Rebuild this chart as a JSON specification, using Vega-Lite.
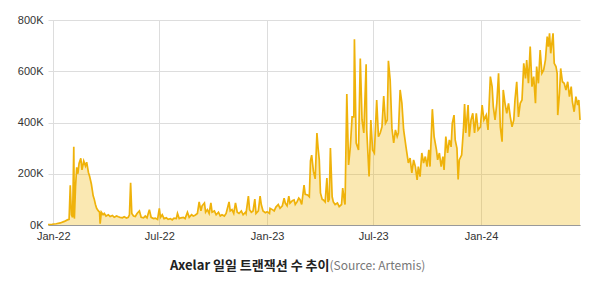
{
  "$schema": "https://vega.github.io/schema/vega-lite/v6.json",
  "width": 532,
  "height": 205,
  "autosize": {"type": "none"},
  "padding": {"left": 48, "top": 20, "right": 17, "bottom": 58},
  "background": "white",
  "config": {"view": {"stroke": null}},
  "data": {"values": [
    {"date": "2021-12-23", "value": 2000},
    {"date": "2021-12-30", "value": 3000},
    {"date": "2022-01-06", "value": 5000},
    {"date": "2022-01-13", "value": 8000},
    {"date": "2022-01-20", "value": 14000},
    {"date": "2022-01-25", "value": 20000},
    {"date": "2022-01-28", "value": 22000},
    {"date": "2022-01-30", "value": 155000},
    {"date": "2022-02-01", "value": 40000},
    {"date": "2022-02-03", "value": 30000},
    {"date": "2022-02-05", "value": 305000},
    {"date": "2022-02-06", "value": 25000},
    {"date": "2022-02-08", "value": 150000},
    {"date": "2022-02-10", "value": 225000},
    {"date": "2022-02-12", "value": 200000},
    {"date": "2022-02-14", "value": 240000},
    {"date": "2022-02-17", "value": 260000},
    {"date": "2022-02-19", "value": 215000},
    {"date": "2022-02-22", "value": 250000},
    {"date": "2022-02-25", "value": 230000},
    {"date": "2022-02-27", "value": 245000},
    {"date": "2022-03-02", "value": 205000},
    {"date": "2022-03-04", "value": 190000},
    {"date": "2022-03-07", "value": 160000},
    {"date": "2022-03-09", "value": 130000},
    {"date": "2022-03-10", "value": 115000},
    {"date": "2022-03-12", "value": 100000},
    {"date": "2022-03-14", "value": 80000},
    {"date": "2022-03-16", "value": 65000},
    {"date": "2022-03-19", "value": 55000},
    {"date": "2022-03-21", "value": 50000},
    {"date": "2022-03-22", "value": 5000},
    {"date": "2022-03-24", "value": 50000},
    {"date": "2022-03-27", "value": 40000},
    {"date": "2022-03-29", "value": 45000},
    {"date": "2022-04-01", "value": 35000},
    {"date": "2022-04-05", "value": 40000},
    {"date": "2022-04-08", "value": 33000},
    {"date": "2022-04-12", "value": 37000},
    {"date": "2022-04-15", "value": 30000},
    {"date": "2022-04-19", "value": 35000},
    {"date": "2022-04-22", "value": 32000},
    {"date": "2022-04-25", "value": 30000},
    {"date": "2022-04-29", "value": 28000},
    {"date": "2022-05-02", "value": 32000},
    {"date": "2022-05-06", "value": 27000},
    {"date": "2022-05-09", "value": 30000},
    {"date": "2022-05-11", "value": 40000},
    {"date": "2022-05-13", "value": 165000},
    {"date": "2022-05-15", "value": 45000},
    {"date": "2022-05-18", "value": 35000},
    {"date": "2022-05-21", "value": 33000},
    {"date": "2022-05-24", "value": 45000},
    {"date": "2022-05-28", "value": 55000},
    {"date": "2022-05-31", "value": 30000},
    {"date": "2022-06-04", "value": 28000},
    {"date": "2022-06-07", "value": 35000},
    {"date": "2022-06-10", "value": 28000},
    {"date": "2022-06-14", "value": 60000},
    {"date": "2022-06-17", "value": 30000},
    {"date": "2022-06-21", "value": 25000},
    {"date": "2022-06-24", "value": 27000},
    {"date": "2022-06-28", "value": 22000},
    {"date": "2022-07-01", "value": 65000},
    {"date": "2022-07-03", "value": 30000},
    {"date": "2022-07-06", "value": 40000},
    {"date": "2022-07-09", "value": 25000},
    {"date": "2022-07-13", "value": 28000},
    {"date": "2022-07-16", "value": 22000},
    {"date": "2022-07-20", "value": 25000},
    {"date": "2022-07-23", "value": 20000},
    {"date": "2022-07-26", "value": 27000},
    {"date": "2022-07-30", "value": 25000},
    {"date": "2022-08-01", "value": 45000},
    {"date": "2022-08-04", "value": 25000},
    {"date": "2022-08-07", "value": 28000},
    {"date": "2022-08-11", "value": 30000},
    {"date": "2022-08-14", "value": 25000},
    {"date": "2022-08-18", "value": 50000},
    {"date": "2022-08-21", "value": 30000},
    {"date": "2022-08-25", "value": 40000},
    {"date": "2022-08-28", "value": 35000},
    {"date": "2022-08-31", "value": 38000},
    {"date": "2022-09-04", "value": 45000},
    {"date": "2022-09-07", "value": 90000},
    {"date": "2022-09-10", "value": 55000},
    {"date": "2022-09-12", "value": 75000},
    {"date": "2022-09-16", "value": 86000},
    {"date": "2022-09-18", "value": 50000},
    {"date": "2022-09-21", "value": 60000},
    {"date": "2022-09-24", "value": 45000},
    {"date": "2022-09-27", "value": 86000},
    {"date": "2022-09-29", "value": 50000},
    {"date": "2022-10-03", "value": 55000},
    {"date": "2022-10-06", "value": 40000},
    {"date": "2022-10-10", "value": 50000},
    {"date": "2022-10-13", "value": 35000},
    {"date": "2022-10-16", "value": 40000},
    {"date": "2022-10-20", "value": 35000},
    {"date": "2022-10-23", "value": 45000},
    {"date": "2022-10-28", "value": 90000},
    {"date": "2022-10-30", "value": 55000},
    {"date": "2022-11-02", "value": 60000},
    {"date": "2022-11-05", "value": 45000},
    {"date": "2022-11-08", "value": 86000},
    {"date": "2022-11-11", "value": 50000},
    {"date": "2022-11-14", "value": 45000},
    {"date": "2022-11-18", "value": 55000},
    {"date": "2022-11-21", "value": 40000},
    {"date": "2022-11-25", "value": 50000},
    {"date": "2022-11-26", "value": 45000},
    {"date": "2022-11-30", "value": 113000},
    {"date": "2022-12-02", "value": 60000},
    {"date": "2022-12-05", "value": 50000},
    {"date": "2022-12-08", "value": 55000},
    {"date": "2022-12-11", "value": 101000},
    {"date": "2022-12-13", "value": 45000},
    {"date": "2022-12-17", "value": 55000},
    {"date": "2022-12-20", "value": 113000},
    {"date": "2022-12-22", "value": 80000},
    {"date": "2022-12-25", "value": 55000},
    {"date": "2022-12-29", "value": 48000},
    {"date": "2023-01-01", "value": 52000},
    {"date": "2023-01-05", "value": 45000},
    {"date": "2023-01-06", "value": 65000},
    {"date": "2023-01-10", "value": 60000},
    {"date": "2023-01-13", "value": 55000},
    {"date": "2023-01-16", "value": 70000},
    {"date": "2023-01-20", "value": 80000},
    {"date": "2023-01-23", "value": 65000},
    {"date": "2023-01-27", "value": 75000},
    {"date": "2023-01-30", "value": 105000},
    {"date": "2023-02-01", "value": 85000},
    {"date": "2023-02-04", "value": 75000},
    {"date": "2023-02-07", "value": 113000},
    {"date": "2023-02-09", "value": 85000},
    {"date": "2023-02-13", "value": 95000},
    {"date": "2023-02-16", "value": 98000},
    {"date": "2023-02-18", "value": 80000},
    {"date": "2023-02-21", "value": 90000},
    {"date": "2023-02-24", "value": 105000},
    {"date": "2023-02-26", "value": 100000},
    {"date": "2023-03-01", "value": 80000},
    {"date": "2023-03-05", "value": 156000},
    {"date": "2023-03-07", "value": 120000},
    {"date": "2023-03-11", "value": 117000},
    {"date": "2023-03-14", "value": 110000},
    {"date": "2023-03-16", "value": 250000},
    {"date": "2023-03-18", "value": 273000},
    {"date": "2023-03-21", "value": 210000},
    {"date": "2023-03-24", "value": 180000},
    {"date": "2023-03-27", "value": 359000},
    {"date": "2023-03-29", "value": 300000},
    {"date": "2023-03-31", "value": 254000},
    {"date": "2023-04-02", "value": 125000},
    {"date": "2023-04-05", "value": 100000},
    {"date": "2023-04-07", "value": 98000},
    {"date": "2023-04-10", "value": 90000},
    {"date": "2023-04-13", "value": 183000},
    {"date": "2023-04-15", "value": 90000},
    {"date": "2023-04-17", "value": 100000},
    {"date": "2023-04-19", "value": 300000},
    {"date": "2023-04-22", "value": 110000},
    {"date": "2023-04-24", "value": 90000},
    {"date": "2023-04-27", "value": 80000},
    {"date": "2023-05-01", "value": 86000},
    {"date": "2023-05-04", "value": 72000},
    {"date": "2023-05-08", "value": 80000},
    {"date": "2023-05-10", "value": 144000},
    {"date": "2023-05-13", "value": 90000},
    {"date": "2023-05-14", "value": 80000},
    {"date": "2023-05-17", "value": 511000},
    {"date": "2023-05-20", "value": 234000},
    {"date": "2023-05-23", "value": 305000},
    {"date": "2023-05-26", "value": 422000},
    {"date": "2023-05-29", "value": 422000},
    {"date": "2023-05-30", "value": 725000},
    {"date": "2023-06-02", "value": 320000},
    {"date": "2023-06-06", "value": 293000},
    {"date": "2023-06-09", "value": 650000},
    {"date": "2023-06-12", "value": 410000},
    {"date": "2023-06-15", "value": 359000},
    {"date": "2023-06-19", "value": 627000},
    {"date": "2023-06-20", "value": 371000},
    {"date": "2023-06-24", "value": 189000},
    {"date": "2023-06-27", "value": 410000},
    {"date": "2023-06-30", "value": 293000},
    {"date": "2023-07-03", "value": 281000},
    {"date": "2023-07-07", "value": 488000},
    {"date": "2023-07-10", "value": 345000},
    {"date": "2023-07-13", "value": 359000},
    {"date": "2023-07-16", "value": 383000},
    {"date": "2023-07-19", "value": 503000},
    {"date": "2023-07-22", "value": 397000},
    {"date": "2023-07-25", "value": 410000},
    {"date": "2023-07-27", "value": 641000},
    {"date": "2023-07-30", "value": 566000},
    {"date": "2023-08-02", "value": 378000},
    {"date": "2023-08-05", "value": 320000},
    {"date": "2023-08-08", "value": 371000},
    {"date": "2023-08-11", "value": 345000},
    {"date": "2023-08-13", "value": 359000},
    {"date": "2023-08-16", "value": 527000},
    {"date": "2023-08-19", "value": 476000},
    {"date": "2023-08-22", "value": 371000},
    {"date": "2023-08-26", "value": 305000},
    {"date": "2023-08-30", "value": 242000},
    {"date": "2023-09-02", "value": 261000},
    {"date": "2023-09-05", "value": 203000},
    {"date": "2023-09-08", "value": 254000},
    {"date": "2023-09-11", "value": 228000},
    {"date": "2023-09-14", "value": 176000},
    {"date": "2023-09-16", "value": 228000},
    {"date": "2023-09-19", "value": 189000},
    {"date": "2023-09-22", "value": 281000},
    {"date": "2023-09-25", "value": 242000},
    {"date": "2023-09-28", "value": 267000},
    {"date": "2023-10-01", "value": 228000},
    {"date": "2023-10-04", "value": 293000},
    {"date": "2023-10-06", "value": 228000},
    {"date": "2023-10-10", "value": 452000},
    {"date": "2023-10-13", "value": 345000},
    {"date": "2023-10-17", "value": 293000},
    {"date": "2023-10-19", "value": 254000},
    {"date": "2023-10-22", "value": 281000},
    {"date": "2023-10-25", "value": 228000},
    {"date": "2023-10-28", "value": 267000},
    {"date": "2023-10-30", "value": 215000},
    {"date": "2023-11-02", "value": 345000},
    {"date": "2023-11-05", "value": 281000},
    {"date": "2023-11-08", "value": 332000},
    {"date": "2023-11-11", "value": 305000},
    {"date": "2023-11-13", "value": 397000},
    {"date": "2023-11-16", "value": 429000},
    {"date": "2023-11-18", "value": 332000},
    {"date": "2023-11-21", "value": 299000},
    {"date": "2023-11-23", "value": 178000},
    {"date": "2023-11-25", "value": 254000},
    {"date": "2023-11-29", "value": 273000},
    {"date": "2023-12-02", "value": 371000},
    {"date": "2023-12-04", "value": 472000},
    {"date": "2023-12-06", "value": 359000},
    {"date": "2023-12-10", "value": 468000},
    {"date": "2023-12-12", "value": 345000},
    {"date": "2023-12-15", "value": 410000},
    {"date": "2023-12-18", "value": 436000},
    {"date": "2023-12-21", "value": 359000},
    {"date": "2023-12-24", "value": 436000},
    {"date": "2023-12-27", "value": 371000},
    {"date": "2023-12-31", "value": 383000},
    {"date": "2024-01-03", "value": 468000},
    {"date": "2024-01-06", "value": 410000},
    {"date": "2024-01-10", "value": 429000},
    {"date": "2024-01-13", "value": 371000},
    {"date": "2024-01-17", "value": 579000},
    {"date": "2024-01-20", "value": 540000},
    {"date": "2024-01-22", "value": 462000},
    {"date": "2024-01-25", "value": 410000},
    {"date": "2024-01-28", "value": 475000},
    {"date": "2024-01-31", "value": 592000},
    {"date": "2024-02-03", "value": 383000},
    {"date": "2024-02-06", "value": 325000},
    {"date": "2024-02-08", "value": 527000},
    {"date": "2024-02-11", "value": 475000},
    {"date": "2024-02-14", "value": 436000},
    {"date": "2024-02-17", "value": 475000},
    {"date": "2024-02-20", "value": 422000},
    {"date": "2024-02-23", "value": 383000},
    {"date": "2024-02-26", "value": 410000},
    {"date": "2024-02-28", "value": 488000},
    {"date": "2024-03-02", "value": 559000},
    {"date": "2024-03-05", "value": 422000},
    {"date": "2024-03-08", "value": 475000},
    {"date": "2024-03-11", "value": 488000},
    {"date": "2024-03-14", "value": 631000},
    {"date": "2024-03-17", "value": 572000},
    {"date": "2024-03-19", "value": 644000},
    {"date": "2024-03-22", "value": 553000},
    {"date": "2024-03-25", "value": 696000},
    {"date": "2024-03-28", "value": 540000},
    {"date": "2024-03-31", "value": 579000},
    {"date": "2024-04-03", "value": 475000},
    {"date": "2024-04-05", "value": 618000},
    {"date": "2024-04-08", "value": 553000},
    {"date": "2024-04-11", "value": 683000},
    {"date": "2024-04-14", "value": 592000},
    {"date": "2024-04-17", "value": 605000},
    {"date": "2024-04-20", "value": 644000},
    {"date": "2024-04-23", "value": 735000},
    {"date": "2024-04-25", "value": 696000},
    {"date": "2024-04-27", "value": 748000},
    {"date": "2024-04-29", "value": 670000},
    {"date": "2024-05-03", "value": 748000},
    {"date": "2024-05-05", "value": 631000},
    {"date": "2024-05-08", "value": 618000},
    {"date": "2024-05-10", "value": 592000},
    {"date": "2024-05-11", "value": 429000},
    {"date": "2024-05-14", "value": 514000},
    {"date": "2024-05-16", "value": 611000},
    {"date": "2024-05-19", "value": 559000},
    {"date": "2024-05-22", "value": 553000},
    {"date": "2024-05-25", "value": 527000},
    {"date": "2024-05-28", "value": 559000},
    {"date": "2024-05-31", "value": 501000},
    {"date": "2024-06-03", "value": 540000},
    {"date": "2024-06-05", "value": 481000},
    {"date": "2024-06-08", "value": 442000},
    {"date": "2024-06-11", "value": 501000},
    {"date": "2024-06-14", "value": 468000},
    {"date": "2024-06-16", "value": 488000},
    {"date": "2024-06-18", "value": 410000}
  ]},
  "encoding": {
    "x": {
      "field": "date",
      "type": "temporal",
      "axis": {
        "format": "%b-%y",
        "tickCount": {"interval": "month", "step": 6},
        "grid": true,
        "gridColor": "#dddddd",
        "ticks": false,
        "domainColor": "#999999",
        "labelFont": "Liberation Sans",
        "labelFontSize": 11,
        "labelColor": "#333333",
        "labelPadding": 5,
        "title": "Axelar 일일 트랜잭션 수 추이",
        "titleFont": "Noto Sans CJK KR",
        "titleFontWeight": "bold",
        "titleFontSize": 13,
        "titleColor": "#222222",
        "titleAlign": "right",
        "titleAnchor": "start",
        "titleX": 281,
        "titleY": 44,
        "titleBaseline": "alphabetic"
      }
    },
    "y": {
      "field": "value",
      "type": "quantitative",
      "scale": {"domain": [0, 800000]},
      "axis": {
        "values": [0, 200000, 400000, 600000, 800000],
        "labelExpr": "datum.value / 1000 + 'K'",
        "domain": false,
        "ticks": false,
        "grid": true,
        "gridColor": "#dddddd",
        "labelFont": "Liberation Sans",
        "labelFontSize": 11,
        "labelColor": "#333333",
        "labelPadding": 5,
        "title": "(Source: Artemis)",
        "titleAngle": 0,
        "titleFont": "Noto Sans CJK KR",
        "titleFontWeight": "normal",
        "titleFontSize": 12,
        "titleColor": "#777777",
        "titleAlign": "left",
        "titleAnchor": "start",
        "titleX": 281,
        "titleY": 249,
        "titleBaseline": "alphabetic"
      }
    }
  },
  "layer": [
    {"mark": {"type": "area", "fill": "#f0b400", "fillOpacity": 0.3, "interpolate": "linear"}},
    {"mark": {"type": "line", "color": "#efb20a", "strokeWidth": 1.7, "interpolate": "linear"}}
  ]
}
